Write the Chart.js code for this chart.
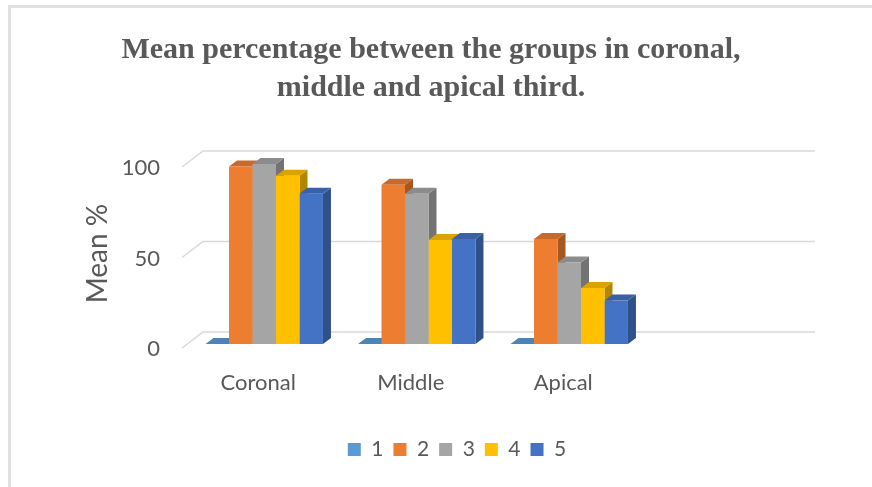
<!DOCTYPE html>
<html>
<head>
<meta charset="utf-8">
<script src="https://cdn.jsdelivr.net/npm/chart.js@4.4.1/dist/chart.umd.min.js"></script>
<style>
  html, body { margin: 0; padding: 0; background: #ffffff; }
  #frame { position: absolute; left: 8px; top: 5px; width: 900px; height: 520px;
           border-left: 3px solid #e0e0e0; border-top: 3px solid #e0e0e0; }
  #c { position: absolute; left: 0; top: 0; }
</style>
</head>
<body>
<div id="frame"></div>
<canvas id="c" width="872" height="487"></canvas>
<script>
// ---- data ----
const categories = ['Coronal', 'Middle', 'Apical', ''];
const seriesNames = ['1', '2', '3', '4', '5'];
const series1 = [0, 0, 0, null];
const series2 = [98, 88, 58, null];
const series3 = [99.5, 83, 45, null];
const series4 = [93, 57.5, 31, null];
const series5 = [83, 58, 24, null];
const yTicks = [0, 50, 100];
const chartTitle = ['Mean percentage between the groups in coronal,', 'middle and apical third.'];
const yTitle = 'Mean %';

const seriesColors = ['#5B9BD5', '#ED7D31', '#A5A5A5', '#FFC000', '#4472C4'];
const allSeries = [series1, series2, series3, series4, series5];

function shade(hex, f) {
  const n = parseInt(hex.slice(1), 16);
  const r = Math.round(((n >> 16) & 255) * f);
  const g = Math.round(((n >> 8) & 255) * f);
  const b = Math.round((n & 255) * f);
  return 'rgb(' + r + ',' + g + ',' + b + ')';
}

const DX = 8, DY = 6;

const depth3d = {
  id: 'depth3d',
  afterLayout(chart) {
    // nudge title and legend horizontally to match the reference
    if (chart.titleBlock) { chart.titleBlock.left -= 8; chart.titleBlock.right -= 8; }
    if (chart.legend) { chart.legend.left += 18; chart.legend.right += 18; }
  },
  beforeDatasetsDraw(chart) {
    const {ctx, chartArea} = chart;
    const y = chart.scales.y;
    ctx.save();
    // back-wall gridlines with side-wall diagonal
    ctx.strokeStyle = '#d9d9d9';
    ctx.lineWidth = 1.5;
    y.ticks.forEach(t => {
      const py = y.getPixelForValue(t.value);
      ctx.beginPath();
      ctx.moveTo(chartArea.left - 6, py + 4);
      ctx.lineTo(chartArea.left + 15, py - 12);
      ctx.lineTo(chartArea.right + 17, py - 12);
      ctx.stroke();
    });
    // side and top faces of the bars, left to right
    const bars = [];
    chart.data.datasets.forEach((ds, di) => {
      const meta = chart.getDatasetMeta(di);
      if (meta.hidden) return;
      meta.data.forEach((el, i) => {
        if (ds.data[i] === null || ds.data[i] === undefined) return;
        bars.push({el, color: ds.backgroundColor});
      });
    });
    bars.sort((a, b) => a.el.x - b.el.x);
    bars.forEach(({el, color}) => {
      const p = el.getProps(['x', 'y', 'base', 'width'], true);
      const l = p.x - p.width / 2, r = p.x + p.width / 2;
      const top = Math.min(p.y, p.base), base = Math.max(p.y, p.base);
      ctx.fillStyle = shade(color, 0.7);
      ctx.beginPath();
      ctx.moveTo(r, top); ctx.lineTo(r + DX, top - DY);
      ctx.lineTo(r + DX, base - DY); ctx.lineTo(r, base);
      ctx.closePath(); ctx.fill();
      ctx.fillStyle = shade(color, 0.85);
      ctx.beginPath();
      ctx.moveTo(l, top); ctx.lineTo(l + DX, top - DY);
      ctx.lineTo(r + DX, top - DY); ctx.lineTo(r, top);
      ctx.closePath(); ctx.fill();
    });
    ctx.restore();
  }
};

const labelFont = 'Lato, "Open Sans", sans-serif';

new Chart(document.getElementById('c'), {
  type: 'bar',
  data: {
    labels: categories,
    datasets: allSeries.map((d, i) => ({
      label: seriesNames[i],
      data: d,
      backgroundColor: seriesColors[i],
      borderWidth: 0,
      categoryPercentage: 0.77,
      barPercentage: 1.0
    }))
  },
  options: {
    responsive: false,
    animation: false,
    devicePixelRatio: 1,
    layout: { padding: { left: 80, right: 74, top: 0, bottom: 17 } },
    plugins: {
      title: {
        display: true,
        text: chartTitle,
        color: '#595959',
        font: { family: '"Liberation Serif", "Times New Roman", serif', size: 30, weight: 'bold', lineHeight: 38 / 30 },
        padding: { top: 31, bottom: 56 }
      },
      legend: {
        position: 'bottom',
        labels: {
          boxWidth: 13, boxHeight: 13, padding: 10,
          color: '#595959',
          font: { family: labelFont, size: 21 }
        }
      },
      tooltip: { enabled: false }
    },
    scales: {
      x: {
        grid: { display: false, drawTicks: false },
        border: { display: false },
        ticks: { color: '#595959', font: { family: labelFont, size: 22 }, padding: 26, labelOffset: -6 },
        afterFit(s) { s.height = 85; }
      },
      y: {
        min: 0, max: 100,
        afterBuildTicks(s) { s.ticks = yTicks.map(v => ({value: v})); },
        grid: { display: false, drawTicks: false },
        border: { display: false },
        ticks: { color: '#595959', font: { family: labelFont, size: 22 }, padding: 28, labelOffset: 5 },
        title: { display: true, text: yTitle, color: '#595959', font: { family: labelFont, size: 28 }, padding: { top: 1, bottom: 0 } },
        afterFit(s) { s.width = 108; }
      }
    }
  },
  plugins: [depth3d]
});
</script>
</body>
</html>
